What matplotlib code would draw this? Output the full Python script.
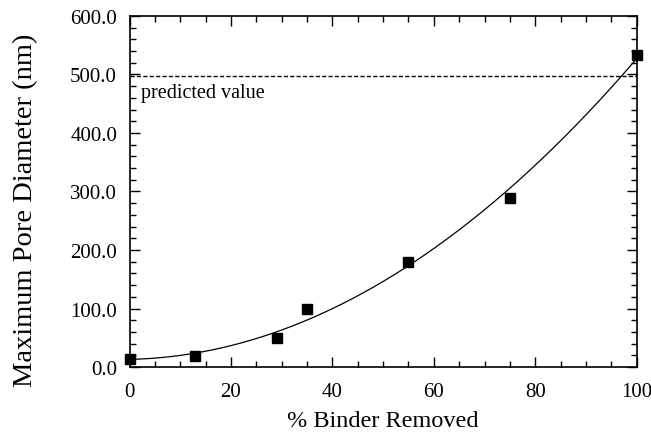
import numpy as np
import matplotlib
matplotlib.use("Agg")
import matplotlib.pyplot as plt
from matplotlib.ticker import MultipleLocator, FormatStrFormatter

plt.rcParams['font.family'] = ['Liberation Serif', 'DejaVu Serif']
plt.rcParams['mathtext.fontset'] = 'stix'

binder_removed = [0, 13, 29, 35, 55, 75, 100]
pore_diameter = [14, 19, 49, 99, 180, 289, 533]
predicted_value = 497
fit_degree = 2

fig = plt.figure(figsize=(6.51, 4.35), dpi=100)
ax = fig.add_axes([0.199, 0.154, 0.779, 0.807])

coef = np.polyfit(binder_removed, pore_diameter, fit_degree)
xf = np.linspace(0, 100, 300)
ax.plot(xf, np.polyval(coef, xf), color='black', lw=0.9)
ax.plot(binder_removed, pore_diameter, 's', color='black', ms=7.5, clip_on=False, zorder=5)
ax.axhline(predicted_value, color='black', lw=1.0, ls=(0, (3, 1.6)))
ax.text(2.2, predicted_value - 11, 'predicted value', fontsize=14.5, va='top', ha='left')

ax.set_xlim(0, 100)
ax.set_ylim(0, 600)
ax.xaxis.set_major_locator(MultipleLocator(20))
ax.xaxis.set_minor_locator(MultipleLocator(5))
ax.yaxis.set_major_locator(MultipleLocator(100))
ax.yaxis.set_minor_locator(MultipleLocator(20))
ax.yaxis.set_major_formatter(FormatStrFormatter('%.1f'))
ax.tick_params(which='both', direction='in', top=True, right=True, labelsize=15, width=1.0)
ax.tick_params(axis='y', which='major', length=7, pad=9)
ax.tick_params(axis='x', which='major', length=7, pad=11)
ax.tick_params(which='minor', length=4)
for s in ax.spines.values():
    s.set_linewidth(1.2)

ax.set_xlabel('% Binder Removed', fontsize=17.5, labelpad=6)
ax.set_ylabel('Maximum Pore Diameter (nm)', fontsize=20.5)
ax.yaxis.set_label_coords(-0.18, 0.45)

fig.savefig('out.png', dpi=100)
